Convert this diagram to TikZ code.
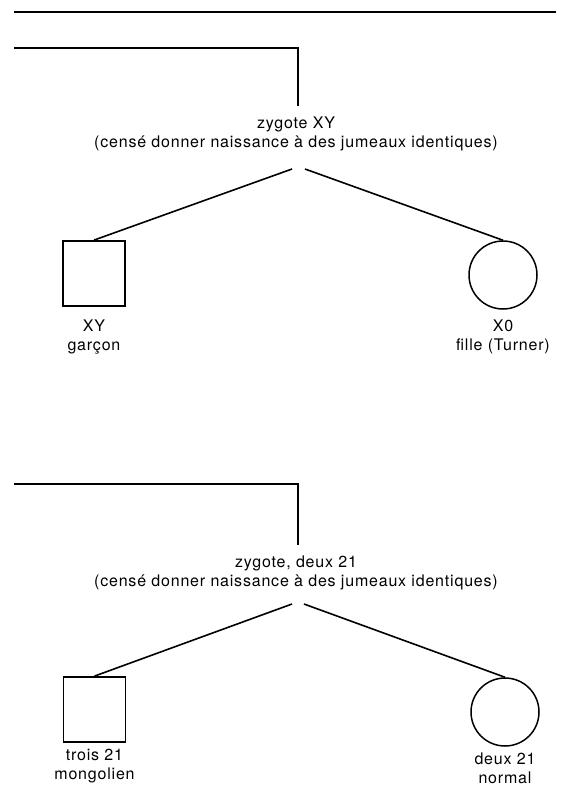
\documentclass[tikz,border=0pt]{standalone}
\usepackage{fontspec}
\setmainfont{TeX Gyre Heros}[LetterSpace=5]
\usepackage{tikz}
\usetikzlibrary{positioning, calc}
\tikzset{
  male/.style={rectangle, draw=black, line width=1.8pt, minimum width=62pt, minimum height=65pt, inner sep=0pt},
  female/.style={circle, draw=black, line width=1.5pt, minimum size=68pt, inner sep=0pt},
  caption/.style={align=center, font=\fontsize{16pt}{19pt}\selectfont, inner sep=0pt},
  rule/.style={line width=1.8pt},
  branch/.style={line width=1.6pt}
}
\begin{document}
\begin{tikzpicture}[x=1pt, y=-1pt]
        \useasboundingbox (0,0) rectangle (564,790);

        % trait en haut de page
        \coordinate (ruleL) at (14,12);
        \coordinate (ruleR) at (556,12);
        \draw [rule] (ruleL) -- (ruleR);

        % premier cas : zygote XY
        \coordinate (brk1) at (14,48);
        \coordinate (top1) at (298,106);
        \node (zyg1) [caption] at (296,134) {zygote XY\\(censé donner naissance à des jumeaux identiques)};
        \coordinate (split1) at (298,169);
        \node (boy1) [male] at (94,273.5) {};
        \node (girl1) [female] at (503,275) {};
        \node (boy1txt) [caption] at (94,337) {XY\\garçon};
        \node (girl1txt) [caption] at (503,337) {X0\\fille (Turner)};

        \draw [rule] (brk1) -| (top1);
        \draw [branch] ([xshift=-6pt]split1) -- (boy1.north);
        \draw [branch] ([xshift=7pt]split1) -- (girl1.north);

        % second cas : zygote, deux 21
        \coordinate (brk2) at (14,484);
        \coordinate (top2) at (298,545);
        \node (zyg2) [caption] at (296,573) {zygote, deux 21\\(censé donner naissance à des jumeaux identiques)};
        \coordinate (split2) at (298,604);
        \node (boy2) [male] at (94.5,709.5) {};
        \node (girl2) [female] at (505,712) {};
        \node (boy2txt) [caption] at (94.5,766.5) {trois 21\\mongolien};
        \node (girl2txt) [caption] at (505,768) {deux 21\\normal};

        \draw [rule] (brk2) -| (top2);
        \draw [branch] ([xshift=-6pt]split2) -- (boy2.north);
        \draw [branch] ([xshift=6pt]split2) -- (girl2.north);

    \end{tikzpicture}
\end{document}
